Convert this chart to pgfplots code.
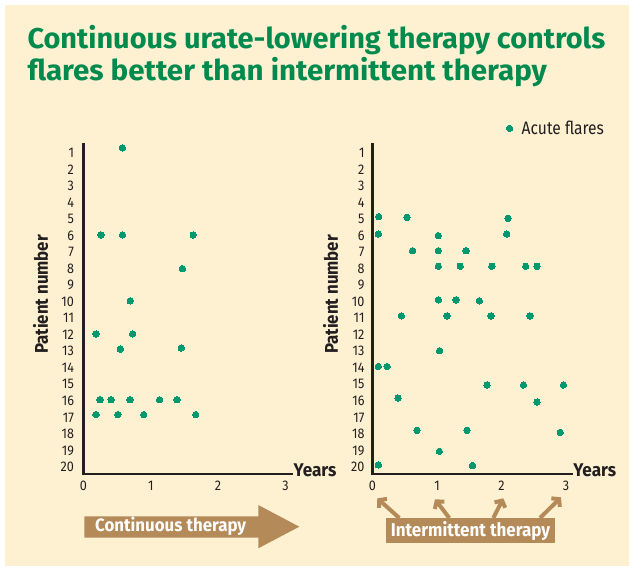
\documentclass[border=0pt]{standalone}
\usepackage{pgfplots}
\pgfplotsset{compat=1.18}
\usetikzlibrary{arrows.meta}
\usepackage{fontspec}
\setmainfont{Fira Sans}[FakeStretch=0.9]
\definecolor{cream}{HTML}{FEF1D2}
\definecolor{titlegreen}{HTML}{008A4E}
\definecolor{dotgreen}{HTML}{00986E}
\definecolor{tan}{HTML}{B38A58}
\definecolor{txt}{HTML}{231F20}
\newcommand\fitw[2]{\resizebox{#1}{\height}{#2}}

\pgfplotstableread{
x y
0.577 0.70
0.26 5.97
0.58 5.97
1.63 5.97
1.47 8.00
0.695 9.95
0.186 11.95
0.73 11.95
0.547 12.87
1.453 12.80
0.245 15.93
0.41 15.93
0.69 15.93
1.13 15.93
1.39 15.93
0.186 16.83
0.51 16.83
0.895 16.83
1.667 16.83
}\continuous

\pgfplotstableread{
x y
0.095 4.86
0.535 4.90
2.10 4.96
0.09 5.91
1.02 6.01
2.08 5.91
0.62 6.92
1.02 6.92
1.45 6.92
1.02 7.86
1.36 7.86
1.85 7.86
2.375 7.86
2.55 7.86
1.02 9.89
1.295 9.89
1.656 9.95
0.447 10.86
1.155 10.86
1.837 10.86
2.44 10.86
1.04 12.97
0.09 13.92
0.225 13.92
1.775 15.04
2.34 15.04
2.96 15.04
0.395 15.83
2.55 16.07
0.69 17.78
1.465 17.78
2.91 17.90
1.036 19.05
0.09 19.87
1.55 19.91
}\intermittent

\pgfplotsset{
  flarebase/.style={
    scale only axis, height=330pt, clip=false,
    ymin=-20.42, ymax=-0.47,
    y filter/.expression={-y},
    ytick={-1,-2,...,-20},
    yticklabels={1,2,3,4,5,6,7,8,9,10,11,12,13,14,15,16,17,18,19,20},
    xtick={0,1,2,3},
    axis x line*=bottom, axis y line*=left,
    axis line style={-, line width=2.4pt, draw=txt, line cap=rect},
    major tick length=0pt, tick style={draw=none},
    ticklabel style={font=\fontsize{14}{14}\selectfont, text=txt},
    /pgf/number format/assume math mode=true,
    xticklabel style={yshift=-3.5pt},
    xlabel={\fontsize{18.4}{18}\selectfont\bfseries\fitw{42.7pt}{Years}},
    xlabel style={at={(axis description cs:1,0)}, anchor=base west, inner sep=0pt, xshift=1.5pt, yshift=-2.7pt, text=txt},
    ylabel={\fontsize{18.4}{18}\selectfont\bfseries\fitw{119pt}{Patient number}},
    ylabel style={anchor=center, text=txt},
  },
  flare/.style={only marks, mark=*, mark size=3.2pt, color=dotgreen, mark options={fill=dotgreen, draw=dotgreen, line width=0pt}},
}

\begin{document}
\begin{tikzpicture}[x=1pt,y=1pt]
\fill[white] (0,0) rectangle (629,-569);
\fill[cream] (5,-5) rectangle (629,-566);

\node[anchor=base west, inner sep=0pt, text=titlegreen, font=\fontsize{28.6}{30}\selectfont\bfseries] at (27.3,-49) {\fitw{577.7pt}{Continuous urate-lowering therapy controls}};
\node[anchor=base west, inner sep=0pt, text=titlegreen, font=\fontsize{28.6}{30}\selectfont\bfseries] at (27.3,-81) {\fitw{519.4pt}{flares better than intermittent therapy}};

\begin{axis}[flarebase, at={(83.5pt,-474pt)}, anchor=south west, width=208.5pt,
  xmin=0, xmax=3.098,
  yticklabel style={xshift=-6pt},
  ylabel style={at={(axis description cs:-0.2062,0.544)}},
]
\addplot[flare] table[x=x,y=y] {\continuous};
\end{axis}

\begin{axis}[flarebase, at={(372.5pt,-474pt)}, anchor=south west, width=199.2pt,
  xmin=0, xmax=3.088,
  yticklabel style={xshift=-4.5pt},
  ylabel style={at={(axis description cs:-0.2108,0.544)}},
  legend style={at={(axis description cs:0.6717,1.0476)}, anchor=west, draw=none, fill=none, inner sep=0pt, outer sep=0pt,
    nodes={inner sep=0pt, text=txt, font=\fontsize{18}{18}\selectfont}},
  legend image code/.code={\draw[mark repeat=2,mark phase=2,#1] plot coordinates {(0pt,0pt)(3.2pt,0pt)(6.4pt,0pt)};},
]
\addplot[flare] table[x=x,y=y] {\intermittent};
\addlegendentry{\hspace{9pt}\fitw{82.3pt}{Acute flares}}
\end{axis}

% continuous therapy arrow
\fill[tan] (84.3,-516.3) -- (258.3,-516.3) -- (258.3,-505) -- (299.3,-526.7) -- (258.3,-548.3) -- (258.3,-537.7) -- (84.3,-537.7) -- cycle;
\node[anchor=base west, inner sep=0pt, text=white, font=\fontsize{17.9}{18}\selectfont\bfseries] at (95,-531.7) {\fitw{151pt}{Continuous therapy}};

% intermittent therapy box and arrows
\begin{scope}[tan, line width=4pt, -{Straight Barb[length=5pt,width=12pt]}]
\draw (399.3,-518) -- (377.3,-498.3);
\draw (449.3,-518) -- (435,-499.3);
\draw (493.3,-518) -- (503.3,-498.3);
\draw (540,-518) -- (561,-497.3);
\end{scope}
\fill[tan] (386,-517.7) rectangle (555,-542.7);
\node[anchor=base west, inner sep=0pt, text=white, font=\fontsize{18.5}{18}\selectfont\bfseries] at (390.7,-536) {\fitw{159.3pt}{Intermittent therapy}};
\end{tikzpicture}
\end{document}
